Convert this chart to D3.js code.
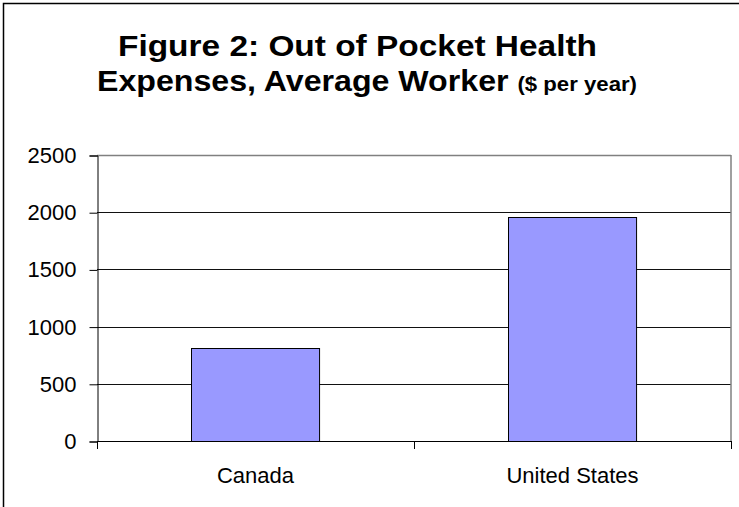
<!DOCTYPE html>
<html>
<head>
<meta charset="utf-8">
<script src="https://cdn.jsdelivr.net/npm/d3@7"></script>
<style>
  body { margin: 0; background: #fff; }
  svg { display: block; font-family: "Liberation Sans", Arial, sans-serif; }
</style>
</head>
<body>
<script>
// Chart data
var categories = ["Canada", "United States"];
var values = [810, 1955];
var yTicks = [0, 500, 1000, 1500, 2000, 2500];
var titleLines = ["Figure 2: Out of Pocket Health", "Expenses, Average Worker "];
var titleNote = "($ per year)";

var width = 739;
var height = 507;
var plot = { left: 97, right: 731, top: 155, bottom: 441 };

// Add svg
var svg = d3
  .select("body")
  .append("svg")
  .attr("width", width)
  .attr("height", height);

// Outer chart border (runs off the right and bottom edge)
svg
  .append("rect")
  .attr("x", 3.5)
  .attr("y", 3.5)
  .attr("width", width + 10)
  .attr("height", height + 10)
  .attr("fill", "white")
  .attr("stroke", "black")
  .attr("stroke-width", 1.5);

// Scales
var x = d3
  .scaleBand()
  .domain(categories)
  .range([plot.left, plot.right])
  .paddingInner(0.596)
  .paddingOuter(0.298);

var y = d3
  .scaleLinear()
  .domain([0, 2500])
  .range([plot.bottom, plot.top]);

// Title, squeezed a little like the original
svg
  .append("text")
  .attr("x", 118)
  .attr("y", 56)
  .attr("textLength", 479)
  .attr("lengthAdjust", "spacingAndGlyphs")
  .style("font-size", "29px")
  .style("font-weight", "bold")
  .text(titleLines[0]);

var t2 = svg
  .append("text")
  .attr("x", 97)
  .attr("y", 91)
  .attr("textLength", 540)
  .attr("lengthAdjust", "spacingAndGlyphs")
  .style("font-weight", "bold");

t2.append("tspan").style("font-size", "29px").text(titleLines[1]);
t2.append("tspan").style("font-size", "20px").text(titleNote);

// Gridlines
svg
  .append("g")
  .selectAll("line")
  .data(yTicks.slice(1))
  .enter()
  .append("line")
  .attr("x1", plot.left)
  .attr("x2", plot.right)
  .attr("y1", (d) => Math.round(y(d)) + 0.5)
  .attr("y2", (d) => Math.round(y(d)) + 0.5)
  .attr("stroke", (d) => (d === 2500 ? "#808080" : "#111"))
  .attr("stroke-width", (d) => (d === 2500 ? 1.5 : 1));

// Plot area right border
svg
  .append("line")
  .attr("x1", plot.right)
  .attr("x2", plot.right)
  .attr("y1", plot.top)
  .attr("y2", plot.bottom)
  .attr("stroke", "#808080")
  .attr("stroke-width", 1.5);

// Bars
svg
  .append("g")
  .selectAll("rect")
  .data(values)
  .enter()
  .append("rect")
  .attr("x", (d, i) => Math.round(x(categories[i])) + 0.5)
  .attr("y", (d) => Math.round(y(d)) + 0.5)
  .attr("width", x.bandwidth())
  .attr("height", (d) => Math.round(y(0)) - Math.round(y(d)))
  .attr("fill", "#9999ff")
  .attr("stroke", "black")
  .attr("stroke-width", 1);

// Y axis
var yAxis = svg
  .append("g")
  .attr("transform", "translate(" + (plot.left + 0.5) + ",0.5)")
  .call(
    d3.axisLeft(y).tickValues(yTicks).tickSize(8).tickPadding(13).tickFormat(d3.format("d"))
  );

yAxis.select(".domain").attr("stroke", "black");
yAxis.selectAll(".tick line").attr("stroke", "black");
yAxis
  .selectAll(".tick text")
  .style("font-size", "22px")
  .attr("fill", "black")
  .style("font-family", "Liberation Sans, Arial, sans-serif");

// X axis line and category separators
var xEdges = [plot.left, (plot.left + plot.right) / 2, plot.right];

svg
  .append("line")
  .attr("x1", plot.left)
  .attr("x2", plot.right)
  .attr("y1", plot.bottom + 0.5)
  .attr("y2", plot.bottom + 0.5)
  .attr("stroke", "black");

svg
  .append("g")
  .selectAll("line")
  .data(xEdges)
  .enter()
  .append("line")
  .attr("x1", (d) => Math.round(d) + 0.5)
  .attr("x2", (d) => Math.round(d) + 0.5)
  .attr("y1", plot.bottom)
  .attr("y2", plot.bottom + 8)
  .attr("stroke", "black");

// Category labels
svg
  .append("g")
  .selectAll("text")
  .data(categories)
  .enter()
  .append("text")
  .attr("x", (d) => x(d) + x.bandwidth() / 2)
  .attr("y", 483)
  .attr("text-anchor", "middle")
  .style("font-size", "22px")
  .text((d) => d);
</script>
</body>
</html>
